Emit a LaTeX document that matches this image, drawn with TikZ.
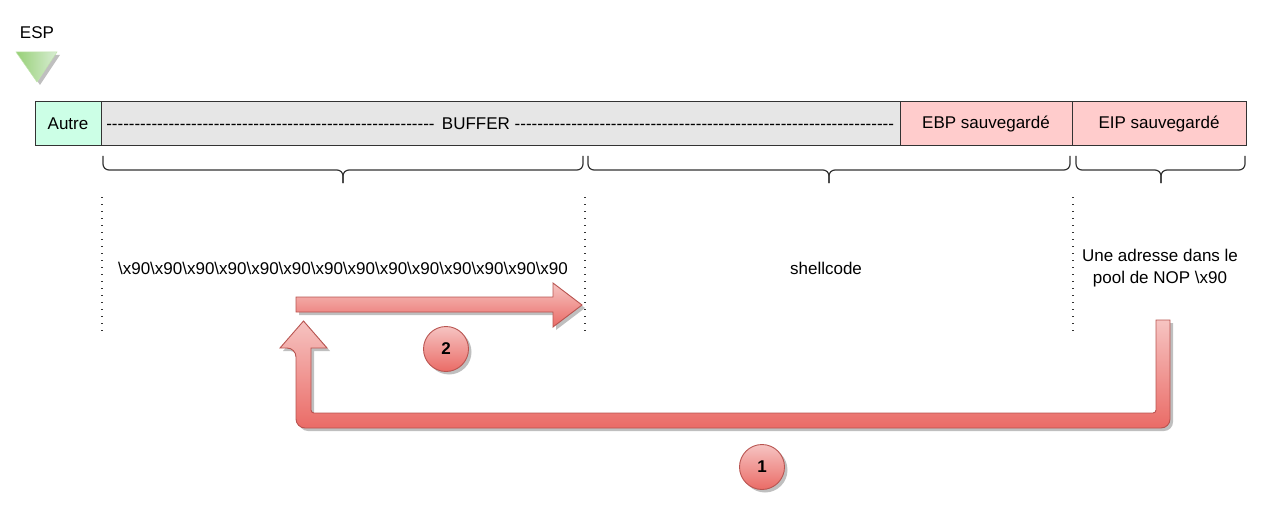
\documentclass[tikz,border=0pt]{standalone}
\usepackage{fontspec}
\setmainfont{Liberation Sans}
\usepackage{tikz}
\usetikzlibrary{positioning, shadows, calc}

\definecolor{vertclair}{HTML}{CCFFE6}
\definecolor{grisbuf}{HTML}{E6E6E6}
\definecolor{rosesauv}{HTML}{FFCCCC}
\definecolor{rougehaut}{HTML}{F6C4C2}
\definecolor{rougebas}{HTML}{EA6B66}
\definecolor{rougetrait}{HTML}{B85450}
\definecolor{verthaut}{HTML}{D8EDD3}
\definecolor{vertbas}{HTML}{97D077}
\definecolor{traitcase}{HTML}{333333}

\newcommand{\nopx}{\textbackslash x90}

\begin{document}
\begin{tikzpicture}[x=1pt, y=-1pt, every node/.style={font=\fontsize{17}{22}\selectfont, inner sep=0pt, outer sep=0pt},
    case/.style={draw=traitcase, line width=1pt, minimum height=44pt, anchor=north west},
    accolade/.style={draw=traitcase, line width=1.2pt, rounded corners=6pt},
    pointille/.style={draw=traitcase, line width=1.3pt, dash pattern=on 1.3pt off 5.7pt},
    ombre/.style={drop shadow={shadow xshift=3pt, shadow yshift=-3pt, opacity=0.25, fill=black}},
    fleche/.style={draw=rougetrait, line width=0.9pt, top color=rougehaut, bottom color=rougebas, ombre},
    etape/.style={circle, minimum size=45pt, fleche, font=\fontsize{17}{22}\selectfont\bfseries}]
    \useasboundingbox (0,0) rectangle (1269,508);

    % Pointeur de pile
    \node (esp) at (37,33) {ESP};
    \path[left color=vertbas, right color=verthaut, draw=vertbas!60, line width=0.5pt, ombre] (16,52) -- (57,52) -- (37,82) -- cycle;

    % Cases de la pile
    \node (autre) [case, fill=vertclair, minimum width=66pt] at (35,102) {Autre};
    \node (buffer) [case, fill=grisbuf, minimum width=799pt] at (autre.north east)
        {\makebox[331pt]{\leaders\hbox{-}\hfill}\ BUFFER\ \makebox[380pt]{\leaders\hbox{-}\hfill}};
    \node (ebp) [case, fill=rosesauv, minimum width=172pt] at (buffer.north east) {EBP sauvegardé};
    \node (eip) [case, fill=rosesauv, minimum width=174pt] at (ebp.north east) {EIP sauvegardé};

    % Accolades
    \draw[accolade] (103,156) -- (103,170) -- (343,170) -- (343,183);
    \draw[accolade] (583,156) -- (583,170) -- (343,170) -- (343,183);
    \draw[accolade] (588,156) -- (588,170) -- (829,170) -- (829,183);
    \draw[accolade] (1070,156) -- (1070,170) -- (829,170) -- (829,183);
    \draw[accolade] (1076,156) -- (1076,170) -- (1161,170) -- (1161,183);
    \draw[accolade] (1245,156) -- (1245,170) -- (1161,170) -- (1161,183);

    % Separations
    \coordinate (sepA) at (102,197);
    \coordinate (sepB) at (585,197);
    \coordinate (sepC) at (1073,197);
    \draw[pointille] (sepA) -- ++(0,138);
    \draw[pointille] (sepB) -- ++(0,138);
    \draw[pointille] (sepC) -- ++(0,138);

    % Contenu
    \node (nop) at (343,268) {\nopx\nopx\nopx\nopx\nopx\nopx\nopx\nopx\nopx\nopx\nopx\nopx\nopx\nopx};
    \node (shell) at (826,268) {shellcode};
    \node (adresse) [align=center] at (1160,268) {Une adresse dans le\\pool de NOP \nopx};

    % Sauts
    \path[fleche] (1156,320) -- (1170,320) [rounded corners=9pt] -- (1170,428) -- (296,428) -- (296,348)
        [sharp corners] -- (280,348) -- (303.5,321) -- (327,348) -- (311,348)
        [rounded corners=3pt] -- (311,413) -- (1156,413) [sharp corners] -- cycle;
    \path[fleche] (296,297) -- (553,297) -- (553,283) -- (582,305) -- (553,327) -- (553,312) -- (296,312) -- cycle;

    \node (etape2) [etape] at (446,349) {2};
    \node (etape1) [etape] at (762,467) {1};
\end{tikzpicture}
\end{document}
